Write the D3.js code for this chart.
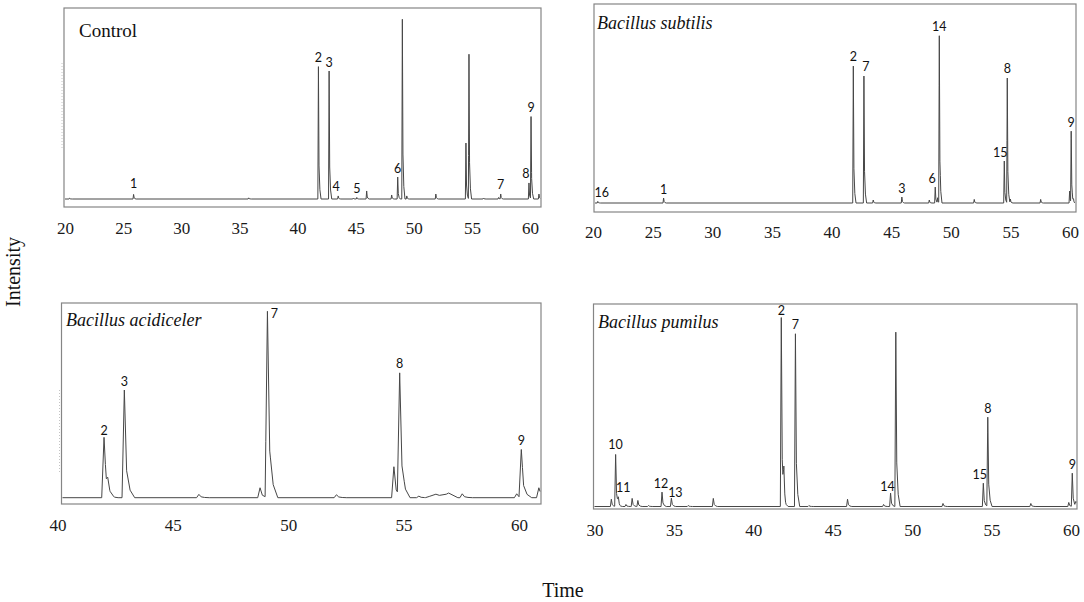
<!DOCTYPE html>
<html>
<head>
<meta charset="utf-8">
<script src="https://cdn.jsdelivr.net/npm/d3@7"></script>
<style>
  body { margin: 0; background: #fff; }
  svg { display: block; }
</style>
</head>
<body>
<svg width="1084" height="602"></svg>
<script>
// ---- data (retention time in min, relative intensity 0-100) ----

// Control
var controlTime   = [20.4, 25.9, 35.8, 41.8, 42.72, 43.5, 44.8, 45.1, 45.95, 48.1, 48.62, 49.02, 49.4, 51.9, 54.49, 54.75, 56.0, 57.3, 57.48, 59.91, 60.09, 60.77];
var controlHeight = [0.4, 2.4, 0.6, 69.3, 67.0, 1.6, 0.5, 0.8, 4.2, 2.1, 11.5, 94.1, 1.6, 2.6, 29.3, 75.8, 0.5, 0.8, 2.6, 8.4, 42.9, 2.6];
var controlLabel  = ["", "1", "", "2", "3", "4", "", "5", "", "", "6", "", "", "", "", "", "", "", "7", "8", "9", ""];

// Bacillus subtilis
var subtilisTime   = [20.4, 25.92, 41.83, 42.72, 43.5, 45.9, 48.2, 48.7, 48.9, 49.04, 51.97, 54.49, 54.74, 55.0, 57.54, 59.97, 60.1, 60.3];
var subtilisHeight = [0.8, 2.5, 68.8, 63.8, 1.5, 3.0, 1.5, 8.0, 2.5, 83.9, 1.8, 21.1, 62.8, 2.0, 1.8, 6.0, 35.7, 1.5];
var subtilisLabel  = ["16", "1", "2", "7", "", "3", "", "6", "", "14", "", "15", "8", "", "", "", "9", ""];

// Bacillus acidiceler
var acidTime   = [42.02, 42.18, 42.9, 46.13, 48.78, 49.1, 52.09, 54.58, 54.83, 55.66, 57.54, 59.9, 60.1, 60.86];
var acidHeight = [31.0, 5.0, 55.3, 1.7, 5.1, 95.5, 1.5, 15.9, 63.0, 0.8, 2.0, 2.0, 24.5, 5.1];
var acidLabel  = ["2", "", "3", "", "", "7", "", "", "8", "", "", "", "9", ""];
// broad low humps: [time, height, half width]
var acidHumps  = [[56.4, 1.8, 0.45], [56.95, 2.4, 0.4]];

// Bacillus pumilus
var pumilusTime   = [31.06, 31.33, 31.5, 31.98, 32.37, 32.73, 33.4, 34.25, 34.84, 35.9, 37.48, 41.76, 41.92, 42.65, 43.5, 45.93, 48.2, 48.64, 48.97, 51.94, 54.48, 54.76, 57.47, 59.86, 60.08, 60.3];
var pumilusHeight = [3.6, 25.7, 3.3, 1.0, 4.0, 3.0, 0.5, 7.1, 4.1, 0.5, 4.0, 93.3, 14.0, 85.3, 0.5, 3.6, 1.0, 6.6, 86.1, 1.5, 11.5, 44.1, 1.5, 2.0, 16.4, 2.0];
var pumilusLabel  = ["", "10", "11", "", "", "", "", "12", "13", "", "", "2", "", "7", "", "", "", "14", "", "", "15", "8", "", "", "9", ""];

var controlTicks  = [20, 25, 30, 35, 40, 45, 50, 55, 60];
var subtilisTicks = [20, 25, 30, 35, 40, 45, 50, 55, 60];
var acidTicks     = [40, 45, 50, 55, 60];
var pumilusTicks  = [30, 35, 40, 45, 50, 55, 60];

var serif = '"Liberation Serif", "Times New Roman", serif';
var sans = 'Lato, "Open Sans", sans-serif';

// ---- layout ----
var panels = [
  { name: "Control", italic: false, time: controlTime, height: controlHeight, label: controlLabel, humps: [],
    ticks: controlTicks, anchor: [20, 60], anchorPx: [65, 530],
    box: [64, 8, 541, 207], base: 199, w: 0.05, pad: 15, title: [79, 36.5],
    shift: { "4": [-2, 0], "8": [-3, 0], "1": [0, -2] }, dashed: [62, 63, 150] },
  { name: "Bacillus subtilis", italic: true, time: subtilisTime, height: subtilisHeight, label: subtilisLabel, humps: [],
    ticks: subtilisTicks, anchor: [20, 60], anchorPx: [593, 1070],
    box: [594, 4, 1076, 212], base: 203, w: 0.05, pad: 14, title: [597, 28.5],
    shift: { "16": [4, 0], "6": [-3, 0], "15": [-4, 0], "7": [2, -1], "2": [0, -1], "8": [0, -1] } },
  { name: "Bacillus acidiceler", italic: true, time: acidTime, height: acidHeight, label: acidLabel, humps: acidHumps,
    ticks: acidTicks, anchor: [40, 60], anchorPx: [57.4, 519],
    box: [61.5, 303, 541, 504], base: 497.7, w: 0.1, pad: 15, title: [66, 326],
    shift: { "7": [7, 11], "2": [0, 2] }, dashed: [59.5, 390, 473] },
  { name: "Bacillus pumilus", italic: true, time: pumilusTime, height: pumilusHeight, label: pumilusLabel, humps: [],
    ticks: pumilusTicks, anchor: [30, 60], anchorPx: [594.5, 1071],
    box: [593.5, 304, 1077, 509], base: 506.5, w: 0.06, pad: 15, title: [598, 328],
    shift: { "11": [5, 0], "12": [-1, 0], "13": [4, 3], "14": [-3, 2], "15": [-3.5, 0], "2": [0, 2], "10": [0, -1] } }
];

var svg = d3.select("svg");

// piecewise linear peak: sharp front, fast drop then a short tail
function peakValue(t0, h, w, t) {
  var d = t - t0;
  if (d < -w || d > 4.5 * w) return 0;
  if (d <= 0) return h * (1 + d / w);
  if (d <= w) return h * (1 - 0.75 * d / w);
  if (d <= 2.5 * w) return h * (0.25 - 0.18 * (d - w) / (1.5 * w));
  return h * 0.07 * (1 - (d - 2.5 * w) / (2 * w));
}

function humpValue(hp, t) {
  var d = Math.abs(t - hp[0]);
  return d >= hp[2] ? 0 : hp[1] * (1 - d / hp[2]);
}

function traceAt(p, t) {
  var v = 0;
  p.time.forEach(function(t0, i) { v += peakValue(t0, p.height[i], p.w, t); });
  p.humps.forEach(function(hp) { v += humpValue(hp, t); });
  return v;
}

panels.forEach(function(p) {
  var x = d3.scaleLinear().domain(p.anchor).range(p.anchorPx);
  var y = d3.scaleLinear().domain([0, 100]).range([p.base, p.box[1]]);
  var tStart = x.invert(p.box[0] + 1), tEnd = x.invert(p.box[2] - 1);

  var g = svg.append("g");

  // frame
  g.append("rect")
    .attr("x", p.box[0]).attr("y", p.box[1])
    .attr("width", p.box[2] - p.box[0]).attr("height", p.box[3] - p.box[1])
    .attr("fill", "none").attr("stroke", "#858585").attr("stroke-width", 1.2);

  if (p.dashed) {
    g.append("line")
      .attr("x1", p.dashed[0]).attr("x2", p.dashed[0])
      .attr("y1", p.dashed[1]).attr("y2", p.dashed[2])
      .attr("stroke", "#c4c4c4").attr("stroke-dasharray", "1,2");
  }

  // breakpoints of the piecewise linear trace
  var pts = [tStart, tEnd];
  p.time.forEach(function(t0) {
    [-p.w, 0, p.w, 2.5 * p.w, 4.5 * p.w].forEach(function(o) { pts.push(t0 + o); });
  });
  p.humps.forEach(function(hp) { pts.push(hp[0] - hp[2], hp[0], hp[0] + hp[2]); });
  pts = Array.from(new Set(pts.filter(function(t) { return t >= tStart && t <= tEnd; }))).sort(d3.ascending);

  var line = d3.line()
    .x(function(t) { return x(t); })
    .y(function(t) { return y(traceAt(p, t)); });

  g.append("path")
    .datum(pts)
    .attr("fill", "none")
    .attr("stroke", "#474747")
    .attr("stroke-width", 1)
    .attr("stroke-linejoin", "round")
    .attr("d", line);

  // peak numbers
  p.time.forEach(function(t0, i) {
    var lab = p.label[i];
    if (!lab) return;
    var s = p.shift[lab] || [0, 0];
    g.append("text")
      .attr("x", x(t0) + s[0])
      .attr("y", y(traceAt(p, t0)) - 4.5 + s[1])
      .attr("text-anchor", "middle")
      .style("font-family", sans)
      .style("font-size", "12.5px")
      .style("fill", "#111")
      .text(lab);
  });

  // time axis (labels only)
  var axis = d3.axisBottom(x).tickValues(p.ticks).tickSize(0).tickPadding(p.pad).tickFormat(d3.format("d"));
  g.append("g")
    .attr("transform", "translate(0," + p.box[3] + ")")
    .call(axis)
    .call(function(a) {
      a.select(".domain").remove();
      a.attr("font-family", null).attr("font-size", null);
      a.selectAll("text")
        .style("font-family", serif)
        .style("font-size", "17px")
        .style("fill", "#1a1a1a");
    });

  g.append("text")
    .attr("x", p.title[0]).attr("y", p.title[1])
    .style("font-family", serif)
    .style("font-style", p.italic ? "italic" : "normal")
    .style("font-size", p.italic ? "18px" : "19px")
    .style("fill", "#111")
    .text(p.name);
});

svg.append("text")
  .attr("transform", "translate(20,272) rotate(-90)")
  .attr("text-anchor", "middle")
  .style("font-family", serif)
  .style("font-size", "20px")
  .style("fill", "#111")
  .text("Intensity");

svg.append("text")
  .attr("x", 563).attr("y", 597)
  .attr("text-anchor", "middle")
  .style("font-family", serif)
  .style("font-size", "20px")
  .style("fill", "#111")
  .text("Time");
</script>
</body>
</html>
